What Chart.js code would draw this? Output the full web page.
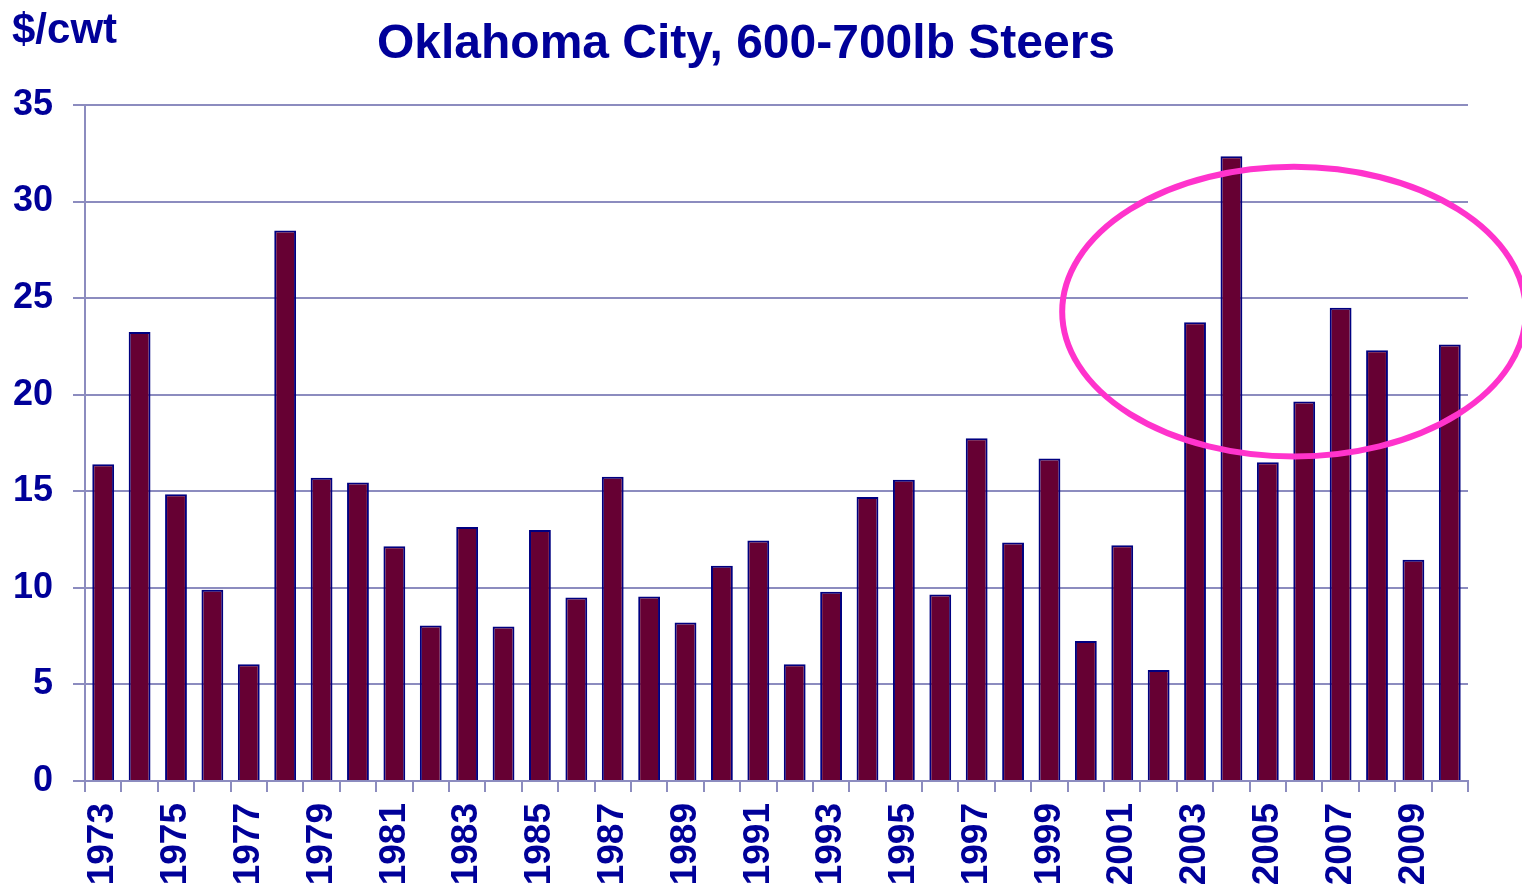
<!DOCTYPE html>
<html>
<head>
<meta charset="utf-8">
<script src="https://cdn.jsdelivr.net/npm/chart.js@4"></script>
<style>
html,body{margin:0;padding:0;background:#fff;}
#wrap{width:1522px;height:887px;position:relative;}
</style>
</head>
<body>
<div id="wrap"><canvas id="c" width="1522" height="887"></canvas></div>
<script>
const years = ['1973','1974','1975','1976','1977','1978','1979','1980','1981','1982','1983','1984','1985','1986','1987','1988','1989','1990','1991','1992','1993','1994','1995','1996','1997','1998','1999','2000','2001','2002','2003','2004','2005','2006','2007','2008','2009','2010'];
const values = [16.4,23.25,14.85,9.9,6.05,28.5,15.7,15.45,12.15,8.05,13.15,8.0,13.0,9.5,15.75,9.55,8.2,11.15,12.45,6.05,9.8,14.7,15.6,9.65,17.75,12.35,16.7,7.25,12.2,5.75,23.75,32.35,16.5,19.65,24.5,22.3,11.45,22.6];
const yTicks = [0,5,10,15,20,25,30,35];
const titleText = 'Oklahoma City, 600-700lb Steers';
const unitText = '$/cwt';

const NAVY = '#000099';
const GRID = '#8c8cbf';

const textPlugin = {
  id: 'texts',
  afterDraw(chart) {
    const ctx = chart.ctx;
    ctx.save();
    ctx.fillStyle = NAVY;
    ctx.textBaseline = 'alphabetic';
    ctx.font = 'bold 48px "Liberation Sans", Arial, sans-serif';
    ctx.textAlign = 'center';
    ctx.fillText(titleText, 746, 58);
    ctx.font = 'bold 42px "Liberation Sans", Arial, sans-serif';
    ctx.textAlign = 'left';
    ctx.fillText(unitText, 12, 43);
    ctx.restore();
  }
};

const ellipsePlugin = {
  id: 'ellipse',
  afterDatasetsDraw(chart) {
    const x = chart.scales.x, y = chart.scales.y;
    const cx = (x.getPixelForValue(32) + x.getPixelForValue(33)) / 2 + 8;
    const cy = y.getPixelForValue(24.3);
    const rx = (x.getPixelForValue(1) - x.getPixelForValue(0)) * 6.37;
    const ry = (y.getPixelForValue(0) - y.getPixelForValue(7.5));
    const ctx = chart.ctx;
    ctx.save();
    ctx.strokeStyle = '#ff33cc';
    ctx.lineWidth = 6;
    ctx.beginPath();
    ctx.ellipse(cx, cy, rx, ry, 0, 0, Math.PI * 2);
    ctx.stroke();
    ctx.restore();
  }
};

new Chart(document.getElementById('c'), {
  type: 'bar',
  data: {
    labels: years,
    datasets: [{
      data: values,
      backgroundColor: '#660033',
      borderColor: '#000080',
      borderWidth: 2,
      borderSkipped: 'bottom',
      barPercentage: 0.6,
      categoryPercentage: 1.0
    }]
  },
  options: {
    responsive: false,
    animation: false,
    devicePixelRatio: 1,
    layout: { padding: { top: 105, right: 54, left: 0, bottom: 0 } },
    plugins: { legend: { display: false }, title: { display: false }, tooltip: { enabled: false } },
    scales: {
      x: {
        afterFit(s) { s.height = 106; },
        grid: { display: true, drawOnChartArea: false, drawTicks: true, tickLength: 11, color: GRID, lineWidth: 2, offset: true },
        border: { display: true, color: GRID, width: 2 },
        ticks: {
          autoSkip: false,
          maxRotation: 90, minRotation: 90,
          padding: 11,
          color: NAVY,
          font: { family: '"Liberation Sans", Arial, sans-serif', size: 37, weight: 'bold' },
          callback(v, i) { return i % 2 === 0 ? years[i] : ''; }
        }
      },
      y: {
        min: 0, max: 35,
        afterFit(s) { s.width = 85; },
        afterBuildTicks(s) { s.ticks = yTicks.map(v => ({ value: v })); },
        grid: { color: GRID, lineWidth: 2, tickLength: 12, drawTicks: true },
        border: { display: true, color: GRID, width: 2 },
        ticks: {
          padding: 20,
          color: NAVY,
          font: { family: '"Liberation Sans", Arial, sans-serif', size: 36, weight: 'bold' }
        }
      }
    }
  },
  plugins: [textPlugin, ellipsePlugin]
});
</script>
</body>
</html>
